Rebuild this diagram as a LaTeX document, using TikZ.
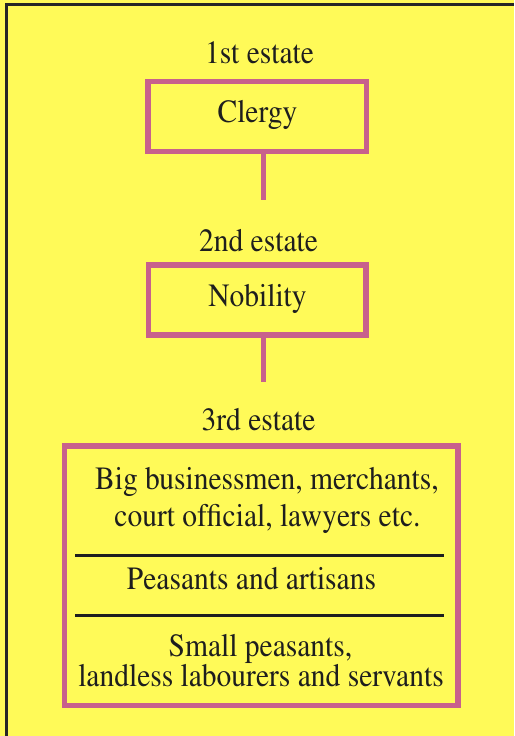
\documentclass[tikz,border=0pt]{standalone}
\usepackage[T1]{fontenc}
\usepackage{mathptmx}
\usepackage{graphicx}
\definecolor{bgyellow}{HTML}{FFFA58}
\definecolor{boxpink}{HTML}{C8608C}
\definecolor{inktext}{HTML}{1E1E1E}
\newcommand{\tallword}[1]{\scalebox{1}[1.1]{#1}}
\tikzset{
  estatebox/.style={draw=boxpink, line width=5.5pt, inner sep=0pt, rectangle},
  joinline/.style={draw=boxpink, line width=5pt},
  sepline/.style={draw=inktext, line width=2.6pt},
  lbl/.style={anchor=base, inner sep=0pt, text=inktext, font=\fontsize{29.5}{30}\selectfont},
}
\begin{document}
\begin{tikzpicture}[x=1pt, y=-1pt]
\useasboundingbox (0,0) rectangle (514,736);
\fill[bgyellow] (0,0) rectangle (514,736);
\draw[black!85, line width=2.5pt] (6.5,736) -- (6.5,4.5) -- (514,4.5);

% estate headings
\node[lbl] (h1) at (259.5,63.3) {\tallword{1st estate}};
\node[lbl] (h2) at (258.5,251.5) {\tallword{2nd estate}};
\node[lbl] (h3) at (258.5,430) {\tallword{3rd estate}};

% boxes
\node[estatebox, minimum width=218.5pt, minimum height=70pt] (clergybox) at (257.25,116.5) {};
\node[estatebox, minimum width=217.7pt, minimum height=70pt] (nobilitybox) at (257.15,300) {};
\node[estatebox, minimum width=393.3pt, minimum height=259.5pt] (thirdbox) at (261.35,575.75) {};

\node[lbl] (clergy) at (257.5,122.7) {\tallword{Clergy}};
\node[lbl] (nobility) at (257.5,306.7) {\tallword{Nobility}};

% connectors
\coordinate (j1) at (263,200);
\coordinate (j2) at (263,381.5);
\draw[joinline] (clergybox.south -| j1) -- (j1);
\draw[joinline] (nobilitybox.south -| j2) -- (j2);

% third estate contents
\node[lbl] (t1a) at (267,489) {\tallword{Big businessmen, merchants,}};
\node[lbl] (t1b) at (267.5,526.7) {\tallword{court official, lawyers etc.}};
\coordinate (s1l) at (75,555.7);
\coordinate (s1r) at (444,555.7);
\draw[sepline] (s1l) -- (s1r);
\node[lbl] (t2) at (251.5,589) {\tallword{Peasants and artisans}};
\coordinate (s2l) at (75,615.3);
\coordinate (s2r) at (444,615.3);
\draw[sepline] (s2l) -- (s2r);
\node[lbl] (t3a) at (260.5,656.7) {\tallword{Small peasants,}};
\node[lbl] (t3b) at (261,686) {\tallword{landless labourers and servants}};
\end{tikzpicture}
\end{document}
